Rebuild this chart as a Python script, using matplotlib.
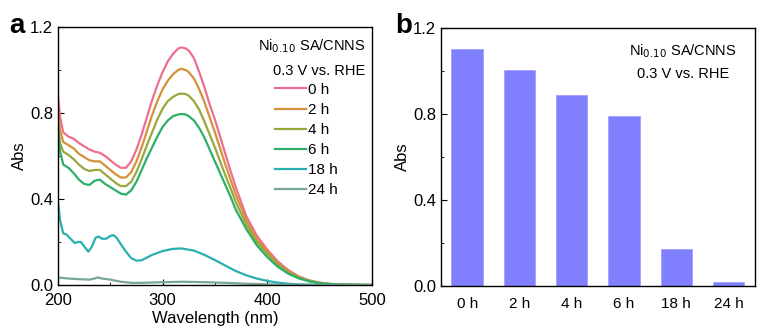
import matplotlib
matplotlib.use("Agg")
import matplotlib.pyplot as plt
from matplotlib.ticker import MultipleLocator, FormatStrFormatter

plt.rcParams['font.family'] = ['Liberation Sans', 'DejaVu Sans']

# ---- data (panel a) ----
wl_main = [200, 202, 205, 210, 215, 220, 225, 230, 235, 240, 245, 250, 255, 260, 265,
           270, 275, 280, 285, 290, 295, 300, 305, 310, 315, 318, 322, 325, 330, 335,
           340, 345, 350, 355, 360, 365, 370, 380, 390,
           400, 410, 420, 430, 440, 450, 460, 470, 480, 500]
abs_0h = [0.88, 0.78, 0.71, 0.69, 0.68, 0.66, 0.645, 0.63, 0.62, 0.615, 0.60, 0.58, 0.56, 0.545, 0.545,
          0.575, 0.63, 0.70, 0.78, 0.86, 0.93, 0.99, 1.04, 1.075, 1.10, 1.105, 1.10, 1.09, 1.055, 0.99,
          0.92, 0.84, 0.77, 0.69, 0.61, 0.53, 0.455, 0.32, 0.23,
          0.165, 0.11, 0.07, 0.04, 0.022, 0.011, 0.005, 0.002, 0.001, 0.0]
abs_2h = [0.80, 0.72, 0.665, 0.65, 0.635, 0.61, 0.595, 0.58, 0.575, 0.575, 0.555, 0.535, 0.515, 0.50, 0.50,
          0.525, 0.575, 0.64, 0.715, 0.79, 0.855, 0.91, 0.95, 0.98, 1.0, 1.005, 1.0, 0.99, 0.96, 0.91,
          0.85, 0.78, 0.71, 0.635, 0.56, 0.49, 0.42, 0.30, 0.215,
          0.155, 0.10, 0.065, 0.038, 0.02, 0.01, 0.005, 0.002, 0.001, 0.0]
abs_4h = [0.75, 0.66, 0.62, 0.605, 0.585, 0.56, 0.54, 0.53, 0.535, 0.535, 0.515, 0.495, 0.475, 0.46, 0.46,
          0.48, 0.525, 0.585, 0.65, 0.71, 0.77, 0.82, 0.855, 0.875, 0.888, 0.89, 0.888, 0.88, 0.855, 0.815,
          0.76, 0.70, 0.64, 0.575, 0.51, 0.45, 0.385, 0.28, 0.20,
          0.145, 0.095, 0.06, 0.035, 0.019, 0.009, 0.004, 0.002, 0.001, 0.0]
abs_6h = [0.72, 0.62, 0.56, 0.545, 0.52, 0.49, 0.47, 0.465, 0.485, 0.49, 0.47, 0.455, 0.44, 0.425, 0.42,
          0.44, 0.48, 0.535, 0.59, 0.64, 0.69, 0.735, 0.765, 0.785, 0.793, 0.795, 0.793, 0.785, 0.765, 0.73,
          0.685, 0.63, 0.575, 0.52, 0.465, 0.41, 0.35, 0.26, 0.185,
          0.13, 0.085, 0.053, 0.031, 0.017, 0.008, 0.004, 0.002, 0.001, 0.0]

wl_18h = [200, 202, 205, 208, 210, 213, 216, 219, 222, 225, 229, 232, 236, 239, 242, 246, 250, 253,
          256, 260, 265, 270, 275, 280, 290, 300, 310, 318, 330, 340, 350, 360, 370, 380, 390, 400,
          410, 420, 430, 450, 500]
abs_18h = [0.39, 0.30, 0.24, 0.235, 0.225, 0.21, 0.195, 0.20, 0.20, 0.18, 0.155, 0.175, 0.22, 0.225, 0.215,
           0.215, 0.228, 0.232, 0.22, 0.19, 0.155, 0.125, 0.113, 0.115, 0.14, 0.158, 0.168, 0.17, 0.16,
           0.14, 0.116, 0.09, 0.065, 0.045, 0.03, 0.019, 0.011, 0.006, 0.003, 0.001, 0.0]

wl_24h = [200, 210, 220, 230, 235, 238, 242, 250, 260, 270, 280, 300, 320, 340, 360, 380, 400, 420, 450, 500]
abs_24h = [0.035, 0.03, 0.027, 0.025, 0.03, 0.035, 0.03, 0.025, 0.015, 0.01, 0.01, 0.013, 0.015, 0.013,
           0.01, 0.006, 0.003, 0.001, 0.0, 0.0]

series_labels = ['0 h', '2 h', '4 h', '6 h', '18 h', '24 h']
series_colors = ['#EE6E8E', '#D4913A', '#98A83C', '#2DAF6A', '#2AAFB0', '#78A894']

# ---- data (panel b) ----
bar_labels = ['0 h', '2 h', '4 h', '6 h', '18 h', '24 h']
bar_values = [1.10, 1.005, 0.89, 0.79, 0.17, 0.02]

fig = plt.figure(figsize=(7.58, 3.30), dpi=100)
axA = fig.add_axes([0.0765, 0.1364, 0.414, 0.782])
axB = fig.add_axes([0.5818, 0.1333, 0.414, 0.782])

xs = [wl_main, wl_main, wl_main, wl_main, wl_18h, wl_24h]
ys = [abs_0h, abs_2h, abs_4h, abs_6h, abs_18h, abs_24h]
for x, y, lab, c in zip(xs, ys, series_labels, series_colors):
    axA.plot(x, y, color=c, lw=1.6, label=lab)

axA.set_xlim(200, 500)
axA.set_ylim(0, 1.2)
axA.xaxis.set_major_locator(MultipleLocator(100))
axA.xaxis.set_minor_locator(MultipleLocator(50))
axA.yaxis.set_major_locator(MultipleLocator(0.4))
axA.yaxis.set_minor_locator(MultipleLocator(0.2))
axA.yaxis.set_major_formatter(FormatStrFormatter('%.1f'))
axA.set_xlabel('Wavelength (nm)', fontsize=12, labelpad=2)
axA.set_ylabel('Abs', fontsize=12, labelpad=2)

axA.legend(loc='upper right', bbox_to_anchor=(0.925, 0.825), frameon=False,
           fontsize=11, handlelength=2.0, handletextpad=0.15, labelspacing=0.40,
           borderaxespad=0.3)
axA.text(0.98, 0.925, r'Ni$_{0.10}$ SA/CNNS', transform=axA.transAxes, ha='right', va='center', fontsize=10.5)
axA.text(0.98, 0.83, '0.3 V vs. RHE', transform=axA.transAxes, ha='right', va='center', fontsize=10.5)

pos = list(range(len(bar_values)))
axB.bar(pos, bar_values, width=0.6, color='#8080FF', edgecolor='#A0A0FF', linewidth=0.6)
axB.set_xlim(-0.5, 5.5)
axB.set_ylim(0, 1.2)
axB.set_xticks(pos)
axB.set_xticklabels(bar_labels)
axB.tick_params(axis='x', which='both', length=0)
axB.yaxis.set_major_locator(MultipleLocator(0.4))
axB.yaxis.set_minor_locator(MultipleLocator(0.2))
axB.yaxis.set_major_formatter(FormatStrFormatter('%.1f'))
axB.set_ylabel('Abs', fontsize=12, labelpad=2)
axB.text(0.77, 0.91, r'Ni$_{0.10}$ SA/CNNS', transform=axB.transAxes, ha='center', va='center', fontsize=10.5)
axB.text(0.77, 0.82, '0.3 V vs. RHE', transform=axB.transAxes, ha='center', va='center', fontsize=10.5)

for ax in (axA, axB):
    for s in ax.spines.values():
        s.set_linewidth(1.0)
    ax.tick_params(axis='both', which='both', direction='in', labelsize=12)
    ax.tick_params(axis='y', which='major', length=4)
    ax.tick_params(axis='y', which='minor', length=2.5)
axA.tick_params(axis='x', which='major', length=4, pad=6)
axA.tick_params(axis='x', which='minor', length=2.5)
axB.tick_params(axis='x', pad=8, labelsize=11)

fig.text(0.012, 0.92, 'a', fontsize=20, fontweight='bold', va='center', ha='left')
fig.text(0.521, 0.92, 'b', fontsize=20, fontweight='bold', va='center', ha='left')

fig.savefig('out.png', dpi=100)
